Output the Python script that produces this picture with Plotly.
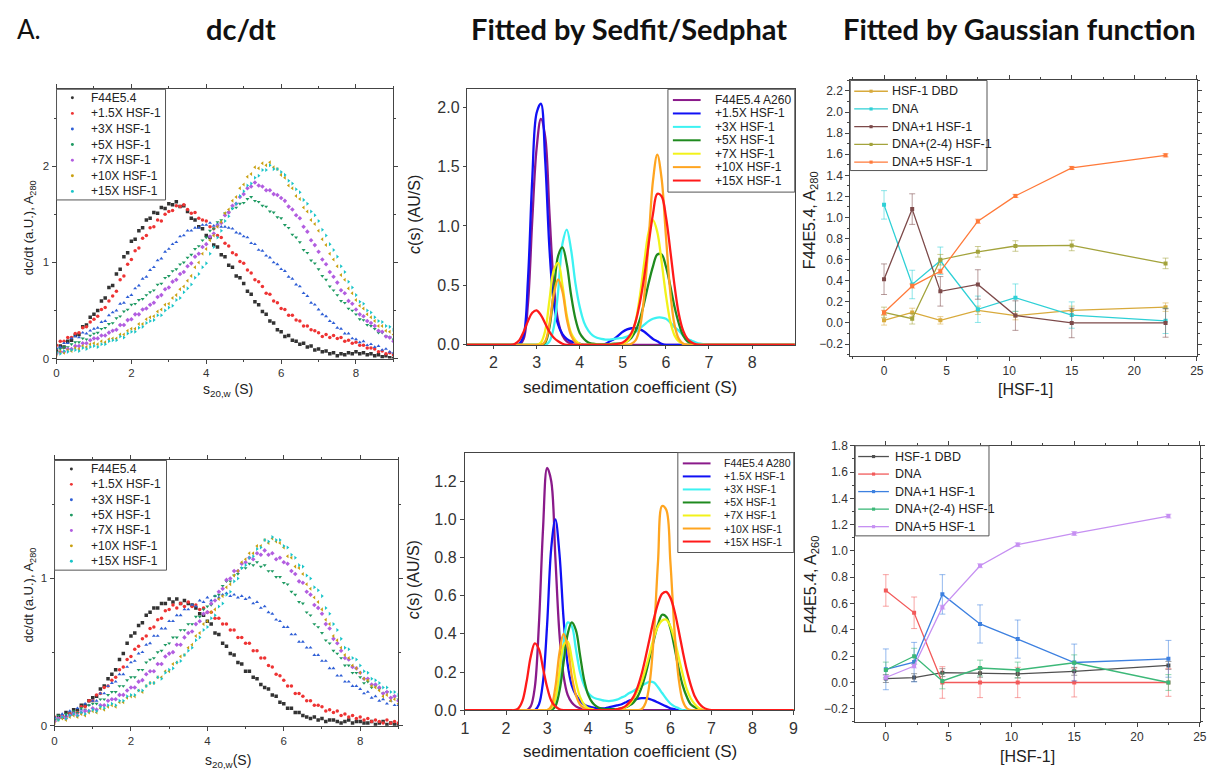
import plotly.graph_objects as go

W, H = 1214, 776
ARIAL = "Liberation Sans, Arial, sans-serif"
TITLEF = "Lato, Carlito, Open Sans, sans-serif"

# ---------------- data: dc/dt (left panels) ----------------
S_DCDT = [0.0,0.1,0.2,0.3,0.4,0.5,0.6,0.7,0.8,0.9,1.0,1.1,1.2,1.3,1.4,1.5,1.6,1.7,1.8,1.9,
          2.0,2.1,2.2,2.3,2.4,2.5,2.6,2.7,2.8,2.9,3.0,3.1,3.2,3.3,3.4,3.5,3.6,3.7,3.8,3.9,
          4.0,4.1,4.2,4.3,4.4,4.5,4.6,4.7,4.8,4.9,5.0,5.1,5.2,5.3,5.4,5.5,5.6,5.7,5.8,5.9,
          6.0,6.1,6.2,6.3,6.4,6.5,6.6,6.7,6.8,6.9,7.0,7.1,7.2,7.3,7.4,7.5,7.6,7.7,7.8,7.9,
          8.0,8.1,8.2,8.3,8.4,8.5,8.6,8.7,8.8,8.9,9.0]

DCDT_NAMES = ["F44E5.4", "+1.5X HSF-1", "+3X HSF-1", "+5X HSF-1", "+7X HSF-1", "+10X HSF-1", "+15X HSF-1"]

TOP_F44 = [0.08,0.13,0.12,0.18,0.19, 0.24,0.25,0.33,0.35,0.43, 0.46,0.50,0.60,0.63,0.74, 0.76,0.88,0.93,1.06,1.10,
           1.22,1.24,1.33,1.36,1.44, 1.46,1.52,1.51,1.57,1.56, 1.61,1.60,1.63,1.58,1.59, 1.53,1.46,1.44,1.37,1.35,
           1.28,1.26,1.18,1.16,1.08, 1.06,0.97,0.95,0.86,0.84, 0.78,0.70,0.67,0.59,0.56, 0.49,0.46,0.39,0.37,0.30,
           0.28,0.23,0.24,0.19,0.18, 0.15,0.16,0.12,0.13,0.09, 0.10,0.07,0.08,0.05,0.06, 0.03,0.05,0.04,0.06,0.05,
           0.07,0.05,0.06,0.04,0.05, 0.03,0.04,0.02,0.03,0.01, 0.0]
TOP_1P5 = [0.14,0.18,0.18,0.22,0.22, 0.26,0.27,0.32,0.33,0.38, 0.41,0.44,0.51,0.53,0.60, 0.65,0.70,0.82,0.86,0.98,
           1.03,1.12,1.15,1.25,1.28, 1.36,1.37,1.44,1.43,1.50, 1.53,1.54,1.59,1.58,1.60, 1.55,1.51,1.52,1.46,1.44,
           1.43,1.37,1.35,1.28,1.26, 1.20,1.17,1.10,1.08,1.01, 0.99,0.92,0.89,0.82,0.80, 0.75,0.68,0.67,0.60,0.58,
           0.52,0.51,0.45,0.45,0.40, 0.39,0.34,0.34,0.30,0.29, 0.27,0.23,0.25,0.22,0.24, 0.21,0.22,0.18,0.19,0.16,
           0.17,0.14,0.14,0.11,0.11, 0.10,0.07,0.08,0.05,0.06, 0.04]
TOP_3 = [0.11,0.12,0.16,0.16,0.21, 0.23,0.22,0.27,0.26,0.29, 0.31,0.32,0.38,0.39,0.45, 0.48,0.50,0.57,0.58,0.64,
         0.66,0.73,0.76,0.83,0.85, 0.92,0.95,1.02,1.04,1.11, 1.14,1.19,1.21,1.27,1.28, 1.33,1.33,1.36,1.36,1.39,
         1.39,1.41,1.38,1.40,1.37, 1.37,1.36,1.35,1.31,1.30, 1.27,1.26,1.20,1.19,1.13, 1.12,1.07,1.05,1.00,0.98,
         0.93,0.91,0.85,0.83,0.77, 0.75,0.68,0.65,0.58,0.56, 0.51,0.46,0.44,0.39,0.37, 0.32,0.31,0.26,0.26,0.21,
         0.20,0.17,0.18,0.14,0.15, 0.12,0.13,0.09,0.10,0.07, 0.06]
TOP_5 = [0.07,0.10,0.12,0.12,0.15, 0.17,0.17,0.21,0.20,0.24, 0.26,0.27,0.31,0.32,0.36, 0.37,0.42,0.44,0.49,0.51,
         0.56,0.57,0.61,0.62,0.66, 0.69,0.71,0.77,0.78,0.84, 0.86,0.91,0.93,0.98,1.00, 1.05,1.08,1.14,1.17,1.23,
         1.26,1.33,1.35,1.42,1.44, 1.51,1.52,1.56,1.57,1.61, 1.62,1.66,1.68,1.64,1.63, 1.59,1.58,1.53,1.52,1.47,
         1.46,1.39,1.36,1.29,1.26, 1.21,1.13,1.10,1.02,0.99, 0.93,0.86,0.82,0.75,0.71, 0.66,0.60,0.58,0.52,0.50,
         0.46,0.41,0.40,0.35,0.34, 0.31,0.27,0.27,0.23,0.22, 0.20]
TOP_7 = [0.05,0.07,0.07,0.10,0.10, 0.13,0.13,0.16,0.16,0.19, 0.21,0.21,0.24,0.24,0.27, 0.29,0.30,0.35,0.35,0.40,
         0.41,0.46,0.46,0.51,0.52, 0.56,0.58,0.64,0.66,0.72, 0.74,0.80,0.82,0.88,0.90, 0.96,0.99,1.06,1.09,1.16,
         1.19,1.27,1.30,1.38,1.41, 1.49,1.52,1.59,1.61,1.68, 1.71,1.77,1.79,1.83,1.80, 1.79,1.75,1.75,1.71,1.70,
         1.67,1.64,1.58,1.55,1.49, 1.46,1.37,1.32,1.23,1.18, 1.11,1.03,0.98,0.90,0.85, 0.79,0.71,0.68,0.60,0.57,
         0.51,0.46,0.44,0.39,0.37, 0.34,0.29,0.28,0.23,0.22, 0.18]
TOP_10 = [0.04,0.07,0.06,0.09,0.08, 0.11,0.10,0.13,0.12,0.15, 0.16,0.15,0.18,0.17,0.20, 0.21,0.21,0.25,0.25,0.29,
          0.31,0.31,0.36,0.36,0.41, 0.43,0.44,0.49,0.51,0.56, 0.57,0.63,0.66,0.72,0.75, 0.81,0.86,0.95,1.00,1.09,
          1.14,1.23,1.28,1.37,1.42, 1.51,1.55,1.64,1.68,1.77, 1.81,1.89,1.92,1.99,1.98, 2.03,2.01,2.04,1.99,1.97,
          1.91,1.88,1.80,1.77,1.69, 1.66,1.57,1.53,1.44,1.40, 1.33,1.24,1.18,1.09,1.03, 0.96,0.87,0.82,0.73,0.68,
          0.61,0.55,0.52,0.46,0.43, 0.39,0.34,0.34,0.29,0.28, 0.25]
TOP_15 = [0.06,0.05,0.08,0.07,0.09, 0.09,0.08,0.11,0.10,0.12, 0.13,0.12,0.15,0.15,0.18, 0.19,0.19,0.23,0.22,0.26,
          0.28,0.28,0.32,0.33,0.37, 0.39,0.40,0.45,0.45,0.50, 0.53,0.55,0.61,0.63,0.69, 0.73,0.77,0.84,0.88,0.95,
          0.99,1.09,1.16,1.26,1.33, 1.43,1.48,1.56,1.61,1.69, 1.74,1.80,1.82,1.88,1.90, 1.96,1.96,2.01,1.97,1.97,
          1.94,1.91,1.85,1.82,1.76, 1.73,1.65,1.61,1.53,1.49, 1.43,1.34,1.28,1.19,1.13, 1.06,0.96,0.90,0.80,0.74,
          0.66,0.59,0.57,0.50,0.48, 0.43,0.39,0.38,0.34,0.33, 0.30]

BOT_F44 = [0.04,0.07,0.06,0.09,0.08, 0.11,0.11,0.14,0.14,0.17, 0.19,0.20,0.25,0.27,0.32, 0.35,0.38,0.45,0.49,0.56,
           0.61,0.63,0.68,0.70,0.75, 0.77,0.80,0.80,0.83,0.83, 0.86,0.84,0.86,0.83,0.85, 0.83,0.82,0.80,0.76,0.75,
           0.71,0.69,0.63,0.62,0.56, 0.54,0.49,0.48,0.43,0.42, 0.37,0.37,0.33,0.32,0.28, 0.26,0.25,0.21,0.20,0.16,
           0.15,0.12,0.12,0.09,0.09, 0.07,0.06,0.05,0.06,0.04, 0.05,0.03,0.04,0.04,0.03, 0.02,0.03,0.04,0.02,0.03,
           0.03,0.02,0.02,0.03,0.01, 0.02,0.03,0.01,0.02,0.01, 0.01]
BOT_1P5 = [0.06,0.05,0.07,0.06,0.08, 0.09,0.09,0.13,0.13,0.17, 0.17,0.21,0.22,0.26,0.27, 0.31,0.33,0.38,0.40,0.45,
           0.47,0.52,0.54,0.59,0.61, 0.66,0.67,0.72,0.73,0.78, 0.79,0.82,0.80,0.83,0.81, 0.84,0.81,0.82,0.79,0.80,
           0.77,0.77,0.73,0.73,0.69, 0.69,0.65,0.65,0.60,0.60, 0.56,0.56,0.51,0.51,0.46, 0.46,0.41,0.40,0.35,0.34,
           0.31,0.27,0.27,0.22,0.22, 0.20,0.17,0.17,0.14,0.14, 0.13,0.10,0.11,0.09,0.10, 0.07,0.08,0.06,0.07,0.05,
           0.06,0.04,0.05,0.03,0.04, 0.03,0.02,0.04,0.02,0.03, 0.02]
BOT_3 = [0.06,0.05,0.08,0.07,0.10, 0.09,0.12,0.11,0.15,0.14, 0.17,0.17,0.22,0.22,0.27, 0.29,0.30,0.35,0.35,0.40,
         0.43,0.44,0.49,0.50,0.55, 0.56,0.61,0.61,0.66,0.66, 0.71,0.71,0.75,0.75,0.79, 0.79,0.82,0.81,0.85,0.84,
         0.87,0.85,0.88,0.87,0.89, 0.90,0.88,0.89,0.87,0.88, 0.86,0.87,0.83,0.84,0.80, 0.81,0.77,0.76,0.72,0.71,
         0.67,0.67,0.62,0.62,0.57, 0.57,0.53,0.53,0.48,0.48, 0.44,0.44,0.39,0.39,0.34, 0.34,0.30,0.30,0.27,0.27,
         0.25,0.22,0.23,0.19,0.20, 0.17,0.18,0.15,0.17,0.14, 0.14]
BOT_5 = [0.04,0.07,0.06,0.08,0.07, 0.10,0.09,0.12,0.11,0.14, 0.15,0.15,0.18,0.18,0.21, 0.23,0.23,0.27,0.27,0.31,
         0.33,0.33,0.38,0.38,0.43, 0.45,0.46,0.50,0.51,0.55, 0.56,0.60,0.60,0.65,0.65, 0.69,0.69,0.74,0.74,0.79,
         0.81,0.82,0.88,0.89,0.95, 0.98,0.98,1.02,1.03,1.07, 1.07,1.10,1.09,1.11,1.08, 1.09,1.05,1.05,1.01,1.01,
         0.97,0.96,0.91,0.89,0.84, 0.83,0.77,0.75,0.69,0.67, 0.63,0.58,0.56,0.51,0.49, 0.46,0.41,0.41,0.36,0.36,
         0.33,0.29,0.30,0.26,0.27, 0.25,0.22,0.23,0.19,0.20, 0.18]
BOT_7 = [0.03,0.05,0.06,0.05,0.07, 0.08,0.07,0.09,0.10,0.10, 0.12,0.11,0.14,0.14,0.17, 0.18,0.18,0.21,0.21,0.24,
         0.26,0.26,0.30,0.31,0.35, 0.37,0.37,0.42,0.42,0.47, 0.49,0.50,0.55,0.55,0.60, 0.63,0.64,0.69,0.71,0.76,
         0.77,0.83,0.85,0.91,0.93, 0.99,1.00,1.05,1.05,1.10, 1.11,1.14,1.13,1.17,1.16, 1.19,1.16,1.17,1.13,1.14,
         1.11,1.10,1.05,1.03,0.98, 0.97,0.91,0.89,0.82,0.80, 0.76,0.69,0.66,0.59,0.56, 0.51,0.46,0.45,0.40,0.39,
         0.36,0.32,0.32,0.28,0.28, 0.26,0.22,0.23,0.19,0.20, 0.17]
BOT_10 = [0.02,0.04,0.05,0.04,0.06, 0.07,0.06,0.08,0.07,0.09, 0.10,0.09,0.12,0.11,0.13, 0.14,0.13,0.16,0.16,0.19,
          0.20,0.20,0.24,0.23,0.27, 0.29,0.29,0.33,0.33,0.37, 0.37,0.42,0.43,0.47,0.48, 0.53,0.55,0.61,0.63,0.69,
          0.71,0.77,0.79,0.86,0.88, 0.94,0.96,1.02,1.05,1.11, 1.13,1.17,1.17,1.22,1.22, 1.26,1.24,1.27,1.25,1.24,
          1.21,1.15,1.14,1.08,1.07, 1.03,0.96,0.93,0.87,0.84, 0.79,0.72,0.69,0.61,0.58, 0.53,0.48,0.46,0.41,0.39,
          0.36,0.32,0.31,0.27,0.26, 0.24,0.20,0.21,0.17,0.18, 0.15]
BOT_15 = [0.05,0.04,0.06,0.05,0.07, 0.08,0.07,0.09,0.08,0.10, 0.11,0.10,0.13,0.12,0.14, 0.15,0.14,0.17,0.17,0.20,
          0.21,0.21,0.24,0.24,0.27, 0.29,0.29,0.33,0.32,0.36, 0.38,0.39,0.43,0.44,0.48, 0.51,0.53,0.58,0.60,0.65,
          0.67,0.73,0.75,0.81,0.83, 0.89,0.91,0.98,1.00,1.07, 1.09,1.14,1.15,1.20,1.21, 1.26,1.25,1.28,1.26,1.26,
          1.22,1.21,1.16,1.14,1.09, 1.08,1.02,1.00,0.94,0.92, 0.88,0.80,0.76,0.69,0.65, 0.59,0.53,0.52,0.46,0.45,
          0.41,0.37,0.36,0.32,0.31, 0.29,0.26,0.26,0.23,0.23, 0.21]

TOP_DCDT = [TOP_F44, TOP_1P5, TOP_3, TOP_5, TOP_7, TOP_10, TOP_15]
BOT_DCDT = [BOT_F44, BOT_1P5, BOT_3, BOT_5, BOT_7, BOT_10, BOT_15]

# ---------------- data: c(s) (middle panels) ----------------
S_CS = [1.0,
        2.0,2.1,2.2,2.3,2.4,2.5,2.6,2.7,2.8,2.9,
        3.0,3.1,3.2,3.3,3.4,3.5,3.6,3.7,3.8,3.9,
        4.0,4.1,4.2,4.3,4.4,4.5,4.6,4.7,4.8,4.9,
        5.0,5.1,5.2,5.3,5.4,5.5,5.6,5.7,5.8,5.9,
        6.0,6.1,6.2,6.3,6.4,6.5,6.6,6.7,6.8,6.9,
        7.0,7.1,7.2,7.3,7.4,7.5,
        9.0]

CS_NAMES_TOP = ["F44E5.4 A260", "+1.5X HSF-1", "+3X HSF-1", "+5X HSF-1", "+7X HSF-1", "+10X HSF-1", "+15X HSF-1"]
CS_NAMES_BOT = ["F44E5.4 A280", "+1.5X HSF-1", "+3X HSF-1", "+5X HSF-1", "+7X HSF-1", "+10X HSF-1", "+15X HSF-1"]

CS_TOP_F44 = [0,
              0,0,0,0,0,0,0,0.05,0.35,1.05,
              1.65,1.9,1.75,1.1,0.5,0.2,0.08,0.03,0.01,0,
              0,0,0,0,0,0,0,0,0,0,
              0,0,0,0,0,0,0,0,0,0,
              0,0,0,0,0,0,0,0,0,0,
              0,0,0,0,0,0,
              0]
CS_TOP_1P5 = [0,
              0,0,0,0,0,0,0.01,0.08,0.55,1.4,
              1.95,2.03,1.55,0.8,0.35,0.17,0.09,0.05,0.03,0.02,
              0.01,0,0,0,0,0,0.01,0.03,0.05,0.08,
              0.11,0.13,0.14,0.14,0.13,0.11,0.08,0.05,0.03,0.01,
              0,0,0,0,0,0,0,0,0,0,
              0,0,0,0,0,0,
              0]
CS_TOP_3 = [0,
            0,0,0,0,0,0,0,0,0,0,
            0,0,0,0.03,0.15,0.45,0.85,0.97,0.8,0.52,
            0.32,0.19,0.12,0.08,0.06,0.05,0.045,0.045,0.05,0.055,
            0.06,0.07,0.09,0.11,0.14,0.17,0.2,0.22,0.23,0.23,
            0.22,0.19,0.15,0.12,0.08,0.05,0.035,0.02,0.01,0.005,
            0,0,0,0,0,0,
            0]
CS_TOP_5 = [0,
            0,0,0,0,0,0,0,0,0,0,
            0,0,0.02,0.15,0.45,0.75,0.82,0.68,0.42,0.22,
            0.1,0.05,0.02,0.01,0.005,0.005,0.005,0.005,0.01,0.01,
            0.015,0.03,0.06,0.12,0.22,0.36,0.52,0.66,0.76,0.76,
            0.66,0.5,0.32,0.18,0.08,0.03,0.01,0,0,0,
            0,0,0,0,0,0,
            0]
CS_TOP_7 = [0,
            0,0,0,0,0,0,0,0,0,0,
            0,0.02,0.12,0.38,0.63,0.69,0.5,0.25,0.1,0.04,
            0.01,0,0,0,0,0,0,0,0,0,
            0.01,0.03,0.08,0.2,0.42,0.7,0.95,1.05,0.95,0.7,
            0.42,0.2,0.08,0.03,0.01,0,0,0,0,0,
            0,0,0,0,0,0,
            0]
CS_TOP_10 = [0,
             0,0,0,0,0,0,0,0,0,0,
             0,0,0.03,0.18,0.43,0.55,0.45,0.22,0.08,0.02,
             0,0,0,0,0,0,0,0,0,0,
             0,0,0.01,0.04,0.15,0.42,0.88,1.38,1.6,1.4,
             0.92,0.45,0.17,0.05,0.01,0,0,0,0,0,
             0,0,0,0,0,0,
             0]
CS_TOP_15 = [0,
             0,0,0,0,0,0.01,0.04,0.11,0.2,0.27,
             0.29,0.25,0.18,0.11,0.06,0.03,0.01,0,0,0,
             0,0,0,0,0,0,0,0,0.005,0.01,
             0.02,0.05,0.1,0.2,0.36,0.58,0.85,1.1,1.27,1.25,
             1.08,0.8,0.5,0.26,0.12,0.05,0.02,0.005,0,0,
             0,0,0,0,0,0,
             0]

CS_BOT_F44 = [0,
              0,0,0,0,0,0,0.02,0.12,0.45,0.95,
              1.27,1.2,0.8,0.4,0.18,0.08,0.04,0.02,0.01,0,
              0,0,0,0,0,0,0,0,0,0,
              0,0,0,0,0,0,0,0,0,0,
              0,0,0,0,0,0,0,0,0,0,
              0,0,0,0,0,0,
              0]
CS_BOT_1P5 = [0,
              0,0,0,0,0,0,0,0,0.03,0.15,
              0.45,0.85,1.0,0.82,0.48,0.24,0.13,0.08,0.05,0.03,
              0.02,0.015,0.01,0.01,0.01,0.015,0.02,0.025,0.03,0.04,
              0.05,0.055,0.06,0.063,0.063,0.058,0.05,0.04,0.03,0.02,
              0.01,0.005,0,0,0,0,0,0,0,0,
              0,0,0,0,0,0,
              0]
CS_BOT_3 = [0,
            0,0,0,0,0,0,0,0,0,0,
            0,0.01,0.05,0.17,0.35,0.46,0.44,0.32,0.2,0.13,
            0.09,0.07,0.06,0.055,0.05,0.048,0.05,0.055,0.065,0.075,
            0.09,0.1,0.115,0.13,0.14,0.15,0.145,0.12,0.09,0.06,
            0.035,0.02,0.01,0,0,0,0,0,0,0,
            0,0,0,0,0,0,
            0]
CS_BOT_5 = [0,
            0,0,0,0,0,0,0,0,0,0,
            0,0,0.02,0.1,0.25,0.4,0.46,0.42,0.29,0.16,
            0.08,0.04,0.02,0.01,0.005,0.005,0.005,0.005,0.01,0.015,
            0.025,0.04,0.07,0.12,0.19,0.28,0.37,0.45,0.5,0.49,
            0.43,0.33,0.22,0.13,0.07,0.03,0.015,0.005,0,0,
            0,0,0,0,0,0,
            0]
CS_BOT_7 = [0,
            0,0,0,0,0,0,0,0,0,0,
            0,0.01,0.06,0.2,0.34,0.36,0.27,0.15,0.07,0.03,
            0.01,0.005,0,0,0,0,0,0,0.005,0.015,
            0.03,0.06,0.1,0.15,0.22,0.3,0.38,0.44,0.47,0.475,
            0.44,0.37,0.28,0.19,0.11,0.06,0.03,0.01,0,0,
            0,0,0,0,0,0,
            0]
CS_BOT_10 = [0,
             0,0,0,0,0,0,0,0,0,0,
             0,0.02,0.12,0.3,0.4,0.33,0.18,0.08,0.03,0.01,
             0,0,0,0,0,0,0,0,0,0,
             0,0,0,0.005,0.04,0.15,0.4,0.78,1.07,1.05,
             0.78,0.42,0.17,0.05,0.01,0,0,0,0,0,
             0,0,0,0,0,0,
             0]
CS_BOT_15 = [0,
             0,0,0,0.01,0.05,0.15,0.28,0.35,0.32,0.22,
             0.12,0.05,0.02,0.005,0,0,0,0,0,0,
             0,0,0,0,0,0,0,0.005,0.01,0.02,
             0.04,0.07,0.12,0.19,0.28,0.38,0.48,0.56,0.61,0.62,
             0.59,0.52,0.42,0.31,0.21,0.13,0.07,0.035,0.015,0.005,
             0,0,0,0,0,0,
             0]

CS_TOP = [CS_TOP_F44, CS_TOP_1P5, CS_TOP_3, CS_TOP_5, CS_TOP_7, CS_TOP_10, CS_TOP_15]
CS_BOT = [CS_BOT_F44, CS_BOT_1P5, CS_BOT_3, CS_BOT_5, CS_BOT_7, CS_BOT_10, CS_BOT_15]

# ---------------- data: Gaussian fits (right panels) ----------------
HSF_CONC = [0, 2.25, 4.5, 7.5, 10.5, 15, 22.5]
GAUSS_NAMES = ["HSF-1 DBD", "DNA", "DNA+1 HSF-1", "DNA+(2-4) HSF-1", "DNA+5 HSF-1"]

GT_DBD = [0.025, 0.10, 0.025, 0.12, 0.07, 0.12, 0.15]
GT_DNA = [1.12, 0.365, 0.59, 0.13, 0.24, 0.075, 0.02]
GT_DNA1 = [0.415, 1.08, 0.30, 0.365, 0.07, 0.0, 0.0]
GT_DNA24 = [0.10, 0.04, 0.60, 0.675, 0.73, 0.735, 0.565]
GT_DNA5 = [0.10, 0.35, 0.49, 0.965, 1.205, 1.47, 1.59]
GT_ERR = [[0.045, 0.04, 0.035, 0.04, 0.04, 0.04, 0.04],
          [0.135, 0.135, 0.13, 0.125, 0.13, 0.125, 0.12],
          [0.145, 0.145, 0.14, 0.14, 0.14, 0.14, 0.135],
          [0.05, 0.05, 0.05, 0.05, 0.05, 0.05, 0.05],
          [0.02, 0.02, 0.02, 0.02, 0.015, 0.015, 0.015]]

GB_DBD = [0.03, 0.037, 0.075, 0.07, 0.065, 0.085, 0.13]
GB_DNA = [0.70, 0.53, 0.0, 0.0, 0.0, 0.0, 0.0]
GB_DNA1 = [0.10, 0.155, 0.67, 0.445, 0.33, 0.152, 0.18]
GB_DNA24 = [0.095, 0.20, 0.012, 0.11, 0.095, 0.15, 0.0]
GB_DNA5 = [0.038, 0.125, 0.573, 0.888, 1.048, 1.133, 1.265]
GB_ERR = [[0.03, 0.03, 0.03, 0.03, 0.03, 0.03, 0.03],
          [0.12, 0.12, 0.12, 0.115, 0.115, 0.11, 0.105],
          [0.155, 0.15, 0.15, 0.145, 0.145, 0.14, 0.14],
          [0.06, 0.06, 0.06, 0.06, 0.06, 0.06, 0.06],
          [0.015, 0.015, 0.015, 0.015, 0.015, 0.015, 0.015]]

GT = [GT_DBD, GT_DNA, GT_DNA1, GT_DNA24, GT_DNA5]
GB = [GB_DBD, GB_DNA, GB_DNA1, GB_DNA24, GB_DNA5]

# ---------------- styles ----------------
DCDT_COLORS = ["#333333", "#ee3333", "#2f5fd6", "#1e9a62", "#b25de0", "#c9a010", "#18c4c8"]
DCDT_SYMBOLS = ["square", "circle", "triangle-up", "triangle-down", "diamond", "triangle-left", "triangle-right"]
CS_COLORS = ["#8a1a8a", "#1010f5", "#3cf2f2", "#1f8a1f", "#f2f21a", "#ffa520", "#ff1a1a"]
GT_COLORS = ["#d8aa3c", "#2ed0d6", "#7d4a4a", "#a3a33c", "#ff7a3a"]
GB_COLORS = ["#505050", "#f25a5a", "#3d80e0", "#3cb878", "#c690f2"]


def hex_rgba(h, a):
    h = h.lstrip("#")
    return "rgba(%d,%d,%d,%.2f)" % (int(h[0:2], 16), int(h[2:4], 16), int(h[4:6], 16), a)


def px(x):
    return x / W


def py(y):
    return 1 - y / H


fig = go.Figure()

# left panels: dc/dt scatter
for ys, xa, ya in [(TOP_DCDT, "x", "y"), (BOT_DCDT, "x4", "y4")]:
    for i, yv in enumerate(ys):
        fig.add_trace(go.Scatter(x=S_DCDT, y=yv, mode="markers", xaxis=xa, yaxis=ya,
                                 marker=dict(size=3.5, color=DCDT_COLORS[i], symbol=DCDT_SYMBOLS[i],
                                             line=dict(width=0)),
                                 name=DCDT_NAMES[i], showlegend=False))

# middle panels: c(s) curves
for ys, names, xa, ya in [(CS_TOP, CS_NAMES_TOP, "x2", "y2"), (CS_BOT, CS_NAMES_BOT, "x5", "y5")]:
    for i, yv in enumerate(ys):
        fig.add_trace(go.Scatter(x=S_CS, y=yv, mode="lines", xaxis=xa, yaxis=ya,
                                 line=dict(color=CS_COLORS[i], width=2.3, shape="spline", smoothing=1.0),
                                 name=names[i], showlegend=False))

# right panels: Gaussian-fit populations
for ys, errs, cols, xa, ya in [(GT, GT_ERR, GT_COLORS, "x3", "y3"), (GB, GB_ERR, GB_COLORS, "x6", "y6")]:
    for i, yv in enumerate(ys):
        fig.add_trace(go.Scatter(x=HSF_CONC, y=yv, mode="lines+markers", xaxis=xa, yaxis=ya,
                                 line=dict(color=cols[i], width=1.3),
                                 marker=dict(size=4, symbol="square", color=cols[i]),
                                 error_y=dict(type="data", array=errs[i], color=hex_rgba(cols[i], 0.55),
                                              thickness=1, width=3),
                                 name=GAUSS_NAMES[i], showlegend=False))

TICKF = dict(family=ARIAL, size=12, color="#333")


def axis(dom, rng, **kw):
    d = dict(domain=dom, range=rng, showline=True, linecolor="#444", linewidth=1, mirror="allticks",
             showgrid=False, zeroline=False, ticks="outside", ticklen=4, tickcolor="#444",
             tickfont=TICKF)
    d.update(kw)
    return d


def dom_x(a, b):
    return [px(a), px(b)]


def dom_y(top, bottom):
    return [py(bottom), py(top)]


minor_x_left = dict(ticks="outside", ticklen=2, dtick=1, tickcolor="#444")
minor_y_left = dict(ticks="outside", ticklen=2, dtick=0.5, tickcolor="#444")
LEFTTICK = dict(family=ARIAL, size=11.5, color="#333")

fig.update_layout(
    width=W, height=H, margin=dict(l=0, r=0, t=0, b=0),
    paper_bgcolor="white", plot_bgcolor="white", showlegend=False,
    # top-left
    xaxis=axis(dom_x(53, 393), [0, 9], anchor="y", tick0=0, dtick=2, minor=minor_x_left, tickfont=LEFTTICK),
    yaxis=axis(dom_y(84, 359), [0, 2.8], anchor="x", tick0=0, dtick=1, minor=minor_y_left, tickfont=LEFTTICK),
    # top-middle
    xaxis2=axis(dom_x(467, 798), [1.38, 8.99], anchor="y2", tick0=0, dtick=1, mirror=True,
                tickfont=dict(family=ARIAL, size=16, color="#333"), ticklen=3),
    yaxis2=axis(dom_y(84, 345), [0, 2.15], anchor="x2", tick0=0, dtick=0.5, tickformat=".1f", mirror=True,
                tickfont=dict(family=ARIAL, size=16, color="#333"), ticklen=3),
    # top-right
    xaxis3=axis(dom_x(854, 1204), [-2.7, 25.02], anchor="y3", tick0=0, dtick=5,
                minor=dict(ticks="outside", ticklen=2, dtick=2.5, tickcolor="#444")),
    yaxis3=axis(dom_y(75, 356), [-0.31, 2.3], anchor="x3", tick0=0, dtick=0.2, tickformat=".1f",
                minor=dict(ticks="outside", ticklen=2, dtick=0.1, tickcolor="#444")),
    # bottom-left
    xaxis4=axis(dom_x(51, 398), [0, 9], anchor="y4", tick0=0, dtick=2, minor=minor_x_left, tickfont=LEFTTICK),
    yaxis4=axis(dom_y(463, 734), [0, 1.8], anchor="x4", tick0=0, dtick=1, minor=minor_y_left, tickfont=LEFTTICK),
    # bottom-middle
    xaxis5=axis(dom_x(465, 797), [0.995, 9.005], anchor="y5", tick0=0, dtick=1, mirror=True,
                tickfont=dict(family=ARIAL, size=16, color="#333")),
    yaxis5=axis(dom_y(455, 718), [0, 1.35], anchor="x5", tick0=0, dtick=0.2, tickformat=".1f", mirror=True,
                tickfont=dict(family=ARIAL, size=16, color="#333")),
    # bottom-right
    xaxis6=axis(dom_x(859, 1207), [-2.44, 25.02], anchor="y6", tick0=0, dtick=5,
                minor=dict(ticks="outside", ticklen=2, dtick=2.5, tickcolor="#444")),
    yaxis6=axis(dom_y(448, 730), [-0.3, 1.8], anchor="x6", tick0=0, dtick=0.2, tickformat=".1f",
                minor=dict(ticks="outside", ticklen=2, dtick=0.1, tickcolor="#444")),
)

shapes = []
annotations = []


def text(x, y, s, size, family=ARIAL, color="#222", xanchor="center", angle=0, bold=False):
    annotations.append(dict(xref="paper", yref="paper", x=px(x), y=py(y), text=("<b>%s</b>" % s) if bold else s,
                            showarrow=False, xanchor=xanchor, yanchor="middle", textangle=angle,
                            font=dict(family=family, size=size, color=color)))


# headings
text(11, 22, "A.", 26, family=TITLEF, color="#111", xanchor="left")
text(239, 22, "dc/dt", 29, family=TITLEF, color="#111", bold=True)
text(631, 22, "Fitted by Sedfit/Sedphat", 29, family=TITLEF, color="#111", bold=True)
text(1025, 22, "Fitted by Gaussian function", 29, family=TITLEF, color="#111", bold=True)

# axis titles
text(26, 225, "dc/dt (a.U.), A<sub>280</sub>", 13, angle=-90)
text(226, 391, "s<sub>20,w</sub> (S)", 14)
text(414, 212, "<i>c</i>(s) (AU/S)", 16, angle=-90)
text(632, 388, "sedimentation coefficient (S)", 17)
text(814, 218, "F44E5.4, A<sub>280</sub>", 16, angle=-90)
text(1031, 391, "[HSF-1]", 16)
text(26, 600, "dc/dt (a.U.), A<sub>280</sub>", 13, angle=-90)
text(226, 770, "s<sub>20,w</sub>(S)", 14)
text(414, 585, "<i>c</i>(s) (AU/S)", 16, angle=-90)
text(632, 760, "sedimentation coefficient (S)", 17)
text(815, 590, "F44E5.4, A<sub>260</sub>", 16, angle=-90)
text(1033, 765, "[HSF-1]", 16)


def box(x0, y0, x1, y1):
    shapes.append(dict(type="rect", xref="paper", yref="paper", x0=px(x0), x1=px(x1), y0=py(y1), y1=py(y0),
                       line=dict(color="#555", width=1), fillcolor="white", layer="above"))


def dot(x, y, r, color, kind="circle"):
    shapes.append(dict(type=kind, xref="paper", yref="paper", x0=px(x - r), x1=px(x + r), y0=py(y + r),
                       y1=py(y - r), line=dict(width=0), fillcolor=color, layer="above"))


def hline(x0, x1, y, color, width):
    shapes.append(dict(type="line", xref="paper", yref="paper", x0=px(x0), x1=px(x1), y0=py(y), y1=py(y),
                       line=dict(color=color, width=width), layer="above"))


# left-panel legends (dot markers)
for (bx0, by0, bx1, by1, y0, step, mx, tx) in [(53, 84, 163, 197, 92.7, 15.93, 69, 86),
                                                (51, 463, 164, 575, 471.7, 15.7, 68, 86)]:
    box(bx0, by0, bx1, by1)
    for i, nm in enumerate(DCDT_NAMES):
        yy = y0 + i * step
        dot(mx, yy, 1.5, DCDT_COLORS[i])
        text(tx, yy, nm, 12, xanchor="left")

# middle-panel legends (line samples)
for (bx0, by0, bx1, by1, y0, step, lx0, lx1, tx, fs, names) in [
        (670, 84, 798, 189, 95, 13.7, 675, 703, 715, 12, CS_NAMES_TOP),
        (680, 455, 797, 557, 466, 13.3, 685, 713, 725, 10.5, CS_NAMES_BOT)]:
    box(bx0, by0, bx1, by1)
    for i, nm in enumerate(names):
        yy = y0 + i * step
        hline(lx0, lx1, yy, CS_COLORS[i], 2)
        text(tx, yy, nm, fs, xanchor="left")

# right-panel legends (line + marker)
for (bx0, by0, bx1, by1, y0, step, lx0, lx1, tx, cols) in [
        (854, 75, 992, 167, 86, 18.1, 858, 892, 894, GT_COLORS),
        (859, 448, 994, 540, 459, 17.9, 862, 893, 897, GB_COLORS)]:
    box(bx0, by0, bx1, by1)
    for i, nm in enumerate(GAUSS_NAMES):
        yy = y0 + i * step
        hline(lx0, lx1, yy, cols[i], 1.3)
        dot((lx0 + lx1) / 2, yy, 1.6, cols[i], kind="rect")
        text(tx, yy, nm, 12.5, xanchor="left")

fig.update_layout(shapes=shapes, annotations=annotations)
fig.write_html("out.html")
